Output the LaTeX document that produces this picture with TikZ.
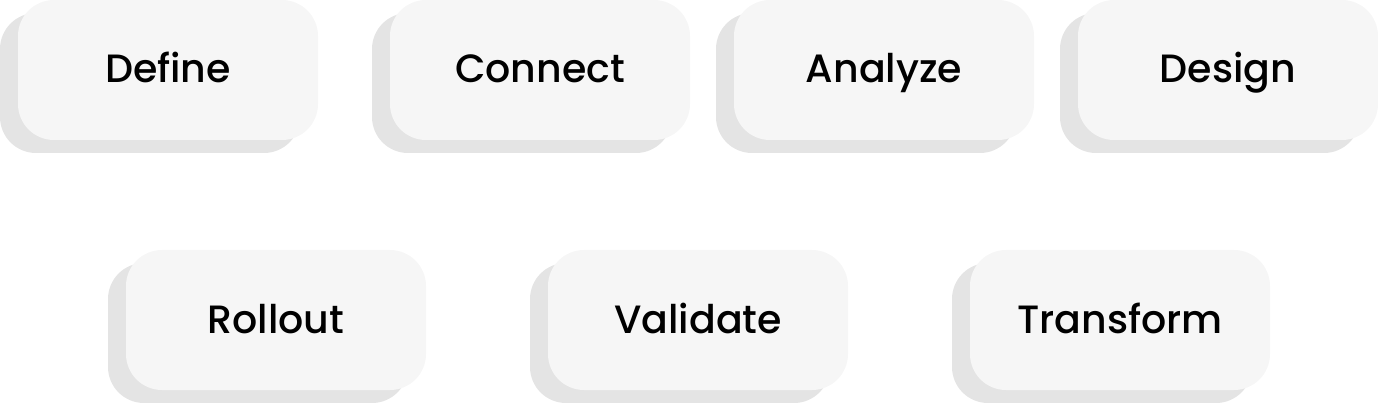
\documentclass[tikz,border=0pt]{standalone}
\usepackage{fontspec}
\setmainfont{Poppins Medium}
\usetikzlibrary{shadows}
\definecolor{boxfill}{HTML}{F6F6F6}
\definecolor{shadowfill}{HTML}{E4E4E4}
\begin{document}
\begin{tikzpicture}[x=1pt,y=-1pt,
  stage/.style={rectangle, rounded corners=36pt, minimum width=300pt, minimum height=140pt,
    inner sep=0pt, fill=boxfill, text=black, text height=27pt, text depth=1pt,
    font=\fontsize{39.5}{47}\selectfont,
    general shadow={fill=shadowfill, shadow xshift=-18pt, shadow yshift=-13pt}}]
\useasboundingbox (0,0) rectangle (1378,403);
\node[stage] (define) at (168,70) {Define};
\node[stage] (connect) at (540,70) {Connect};
\node[stage] (analyze) at (884,70) {Analyze};
\node[stage] (design) at (1228,70) {Design};
\node[stage] (rollout) at (276,320) {Rollout};
\node[stage] (validate) at (698,320) {Validate};
\node[stage] (transform) at (1120,320) {Transform};
\end{tikzpicture}
\end{document}
